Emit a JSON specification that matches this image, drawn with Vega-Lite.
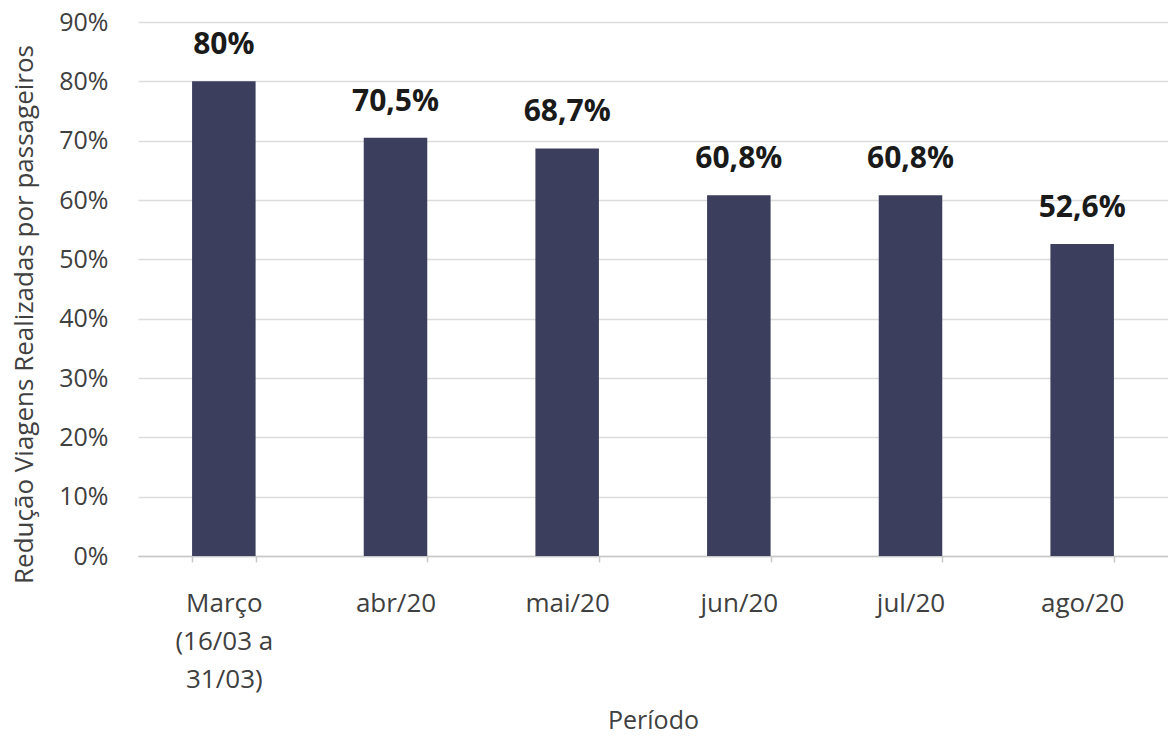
{
  "$schema": "https://vega.github.io/schema/vega-lite/v6.json",
  "width": 1030,
  "height": 534,
  "autosize": {"type": "none"},
  "padding": {"left": 138, "top": 22, "right": 0, "bottom": 180},
  "background": "white",
  "config": {
    "font": "Open Sans",
    "view": {"stroke": null},
    "locale": {"number": {"decimal": ",", "thousands": ".", "grouping": [3], "currency": ["R$", ""]}}
  },
  "data": {
    "values": [
      {"periodo": "Março (16/03 a 31/03)", "reducao": 0.80},
      {"periodo": "abr/20", "reducao": 0.705},
      {"periodo": "mai/20", "reducao": 0.687},
      {"periodo": "jun/20", "reducao": 0.608},
      {"periodo": "jul/20", "reducao": 0.608},
      {"periodo": "ago/20", "reducao": 0.526}
    ]
  },
  "encoding": {
    "x": {
      "field": "periodo",
      "type": "nominal",
      "sort": null,
      "scale": {"paddingInner": 0.63, "paddingOuter": 0.315},
      "axis": {
        "title": "Período",
        "titleFont": "Open Sans",
        "titleFontSize": 25,
        "titleFontWeight": "normal",
        "titleColor": "#404040",
        "titleY": 172,
        "titleBaseline": "alphabetic",
        "labelAngle": 0,
        "labelFont": "Open Sans",
        "labelFontSize": 26,
        "labelColor": "#404040",
        "labelLineHeight": 38,
        "labelBaseline": "top",
        "labelPadding": 28,
        "labelExpr": "datum.value == 'Março (16/03 a 31/03)' ? ['Março', '(16/03 a', '31/03)'] : datum.label",
        "domainColor": "#c8c8c8",
        "domainWidth": 1.5,
        "tickColor": "#c8c8c8",
        "tickSize": 6,
        "tickWidth": 1.5,
        "tickBand": "extent",
        "grid": false
      }
    },
    "y": {
      "field": "reducao",
      "type": "quantitative",
      "scale": {"domain": [0, 0.9]},
      "axis": {
        "title": "Redução Viagens Realizadas por passageiros",
        "titleFont": "Open Sans",
        "titleFontSize": 26,
        "titleFontWeight": "normal",
        "titleColor": "#404040",
        "titleX": -114,
        "titleY": 292,
        "titleBaseline": "middle",
        "values": [0, 0.1, 0.2, 0.3, 0.4, 0.5, 0.6, 0.7, 0.8, 0.9],
        "format": ".0%",
        "labelFont": "Open Sans",
        "labelFontSize": 25,
        "labelColor": "#404040",
        "labelPadding": 30,
        "ticks": false,
        "domain": false,
        "grid": true,
        "gridColor": "#dcdcdc",
        "gridWidth": 1.5
      }
    }
  },
  "layer": [
    {"mark": {"type": "bar", "color": "#3b3e5c"}},
    {
      "mark": {"type": "text", "baseline": "alphabetic", "dy": -27, "fontSize": 30, "fontWeight": "bold", "color": "#1a1a1a", "font": "Open Sans"},
      "encoding": {"text": {"field": "reducao", "type": "quantitative", "format": ".1~%"}}
    }
  ]
}
